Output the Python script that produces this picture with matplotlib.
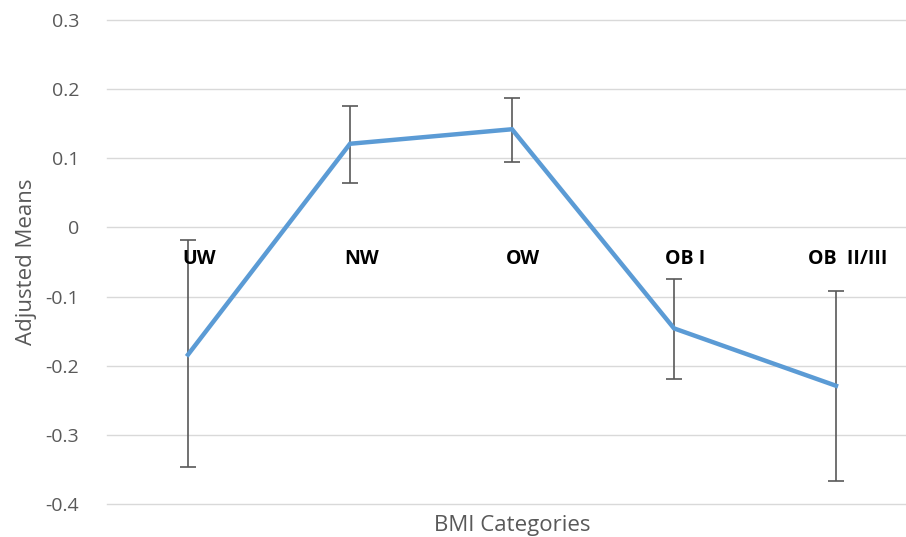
import matplotlib.pyplot as plt
import numpy as np

# datos
categorias = ["UW", "NW", "OW", "OB I", "OB  II/III"]
medias = [-0.184, 0.121, 0.142, -0.146, -0.229]
lim_inf = [-0.347, 0.064, 0.095, -0.219, -0.367]
lim_sup = [-0.018, 0.176, 0.187, -0.075, -0.092]
yticks = [0.3, 0.2, 0.1, 0, -0.1, -0.2, -0.3, -0.4]

plt.rcParams['font.family'] = ['Open Sans', 'DejaVu Sans']

medias = np.array(medias)
err = [medias - np.array(lim_inf), np.array(lim_sup) - medias]
x = np.arange(len(categorias))

fig = plt.figure(figsize=(9.06, 5.37), dpi=100)
ax = fig.add_axes([107 / 906, 33 / 537, 810 / 906, 484 / 537])

ax.errorbar(x, medias, yerr=err, fmt='none', ecolor='#595959',
            elinewidth=1.2, capsize=6, capthick=1.2, zorder=2)
ax.plot(x, medias, color='#5B9BD5', linewidth=3.2, solid_joinstyle='miter', zorder=3)

ax.set_xlim(-0.5, len(categorias) - 0.5)
ax.set_ylim(-0.4, 0.3)
ax.set_yticks(yticks)
ax.set_yticklabels([f"{t:g}" for t in yticks])
ax.set_xticks([])
ax.tick_params(axis='y', length=0, pad=20, labelsize=14, labelcolor='#595959')
ax.grid(axis='y', color='#D9D9D9', linewidth=1)
for gl in ax.get_ygridlines():
    gl.set_clip_on(False)
ax.set_axisbelow(True)
for s in ax.spines.values():
    s.set_visible(False)

# etiquetas de categoría junto al eje en y=0
for xi, c in zip(x, categorias):
    ax.text(xi + 0.07, -0.045, c, ha='center', va='center',
            fontsize=14, fontweight='bold', color='black')

ax.set_ylabel("Adjusted Means", fontsize=16, color='#595959', labelpad=6)
fig.text((107 + 810 / 2) / 906, 12 / 537, "BMI Categories", ha='center', va='center',
         fontsize=16, color='#595959')

fig.savefig("out.png", dpi=100)
